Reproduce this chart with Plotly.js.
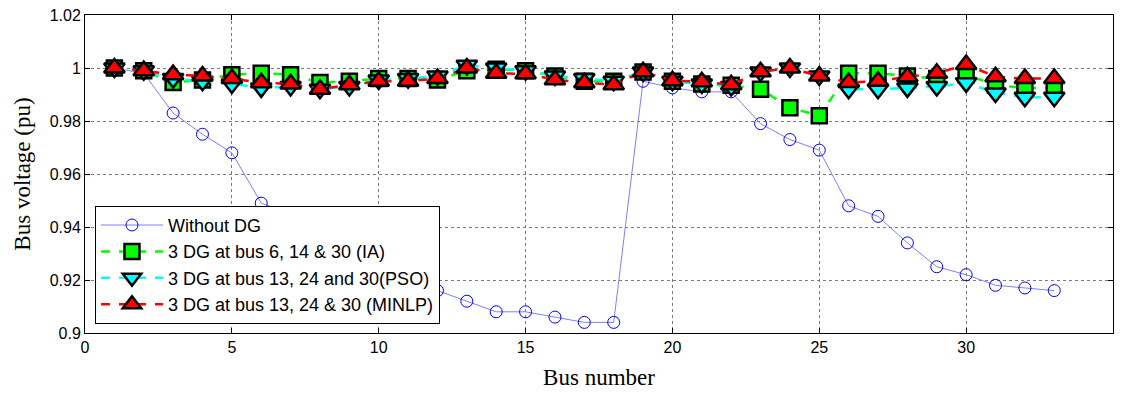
<!DOCTYPE html>
<html>
<head>
<meta charset="utf-8">
<script src="https://cdn.plot.ly/plotly-3.0.1.min.js"></script>
<style>
html,body{margin:0;padding:0;background:#fff;}
#chart{width:1121px;height:395px;}
</style>
</head>
<body>
<div id="chart"></div>
<script>
const bus = [1,2,3,4,5,6,7,8,9,10,11,12,13,14,15,16,17,18,19,20,21,22,23,24,25,26,27,28,29,30,31,32,33];
const withoutDG = [1.000,0.998,0.983,0.975,0.968,0.949,0.945,0.935,0.926,0.920,0.918,0.916,0.912,0.908,0.908,0.906,0.904,0.904,0.995,0.9925,0.991,0.991,0.979,0.973,0.969,0.948,0.944,0.934,0.925,0.922,0.918,0.917,0.916];
const dgIA = [1.000,0.999,0.9945,0.9955,0.9975,0.998,0.9975,0.9945,0.995,0.996,0.996,0.9955,0.999,0.9995,0.999,0.997,0.995,0.995,0.9985,0.995,0.994,0.9935,0.992,0.985,0.982,0.998,0.998,0.997,0.996,0.9975,0.9935,0.9925,0.9925];
const dgPSO = [1.000,0.999,0.996,0.995,0.994,0.9925,0.993,0.992,0.993,0.9955,0.996,0.997,1.001,1.000,0.999,0.997,0.996,0.995,0.9985,0.995,0.994,0.993,0.9985,1.000,0.997,0.992,0.992,0.9925,0.993,0.9944,0.9906,0.989,0.989];
const dgMINLP = [1.000,0.999,0.9975,0.997,0.996,0.9944,0.994,0.992,0.9937,0.995,0.995,0.996,1.000,0.998,0.9978,0.9956,0.9944,0.9937,0.9986,0.9952,0.9948,0.9937,0.9986,1.000,0.997,0.9945,0.995,0.9967,0.998,1.0013,0.9967,0.996,0.996];
const names = ["Without DG","3 DG at bus 6, 14 & 30 (IA)","3 DG at bus 13, 24 and 30(PSO)","3 DG at bus 13, 24 & 30 (MINLP)"];
const xTicks = [0,5,10,15,20,25,30,35];
const yTicks = [0.9,0.92,0.94,0.96,0.98,1,1.02];
const yTickText = ["0.9","0.92","0.94","0.96","0.98","1","1.02"];

const traces = [
  {x: bus, y: withoutDG, name: names[0], mode: 'lines+markers',
   line: {color: '#7f7fff', width: 1},
   marker: {symbol: 'circle-open', size: 12, color: '#0000ff', line: {color: '#0000ff', width: 1}}},
  {x: bus, y: dgIA, name: names[1], mode: 'lines+markers',
   line: {color: '#00ff00', width: 2.5, dash: 'dash'},
   marker: {symbol: 'square', size: 15, color: '#00ff00', line: {color: '#000000', width: 2.5}}},
  {x: bus, y: dgPSO, name: names[2], mode: 'lines+markers',
   line: {color: '#00ffff', width: 2.5, dash: 'dash'},
   marker: {symbol: 'triangle-down', size: 18, color: '#00ffff', line: {color: '#000000', width: 2.5}}},
  {x: bus, y: dgMINLP, name: names[3], mode: 'lines+markers',
   line: {color: '#ff0000', width: 2.5, dash: 'dash'},
   marker: {symbol: 'triangle-up', size: 18, color: '#ff0000', line: {color: '#000000', width: 2.5}}}
];

const axisCommon = {
  showline: true, linecolor: '#000', linewidth: 1, mirror: 'ticks',
  ticks: 'inside', ticklen: 5, tickcolor: '#000',
  showgrid: true, gridcolor: '#7a7a7a', gridwidth: 1, griddash: 'dot',
  zeroline: false
};

const layout = {
  width: 1121, height: 395,
  margin: {l: 85, r: 8, t: 15, b: 62},
  paper_bgcolor: '#fff', plot_bgcolor: '#fff',
  showlegend: true,
  legend: {x: 0.0097, y: 0.40, xanchor: 'left', yanchor: 'top',
    bgcolor: '#fff', bordercolor: '#000', borderwidth: 1,
    font: {family: 'Liberation Sans, Arial, sans-serif', size: 18, color: '#000'},
    itemsizing: 'trace', itemwidth: 62, tracegroupgap: 0},
  xaxis: Object.assign({}, axisCommon, {
    range: [0, 35], tickvals: xTicks, ticktext: xTicks.map(String),
    tickfont: {family: 'Liberation Sans Narrow, Liberation Sans, Arial, sans-serif', size: 16, color: '#000'},
    title: {text: 'Bus number', font: {family: 'Liberation Serif, Times New Roman, serif', size: 23, color: '#000'}, standoff: 13}
  }),
  yaxis: Object.assign({}, axisCommon, {
    range: [0.9, 1.02], tickvals: yTicks, ticktext: yTickText,
    tickfont: {family: 'Liberation Sans, Arial, sans-serif', size: 16, color: '#000'},
    title: {text: 'Bus voltage (pu)', font: {family: 'Liberation Serif, Times New Roman, serif', size: 23, color: '#000'}, standoff: 12}
  })
};

Plotly.newPlot('chart', traces, layout, {displayModeBar: false, staticPlot: true});
</script>
</body>
</html>
